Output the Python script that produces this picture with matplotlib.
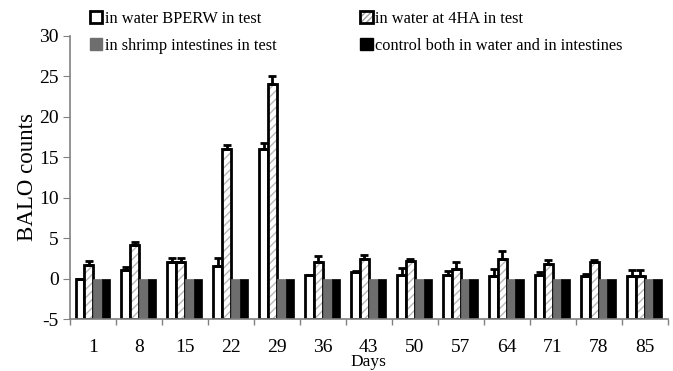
import numpy as np
import matplotlib
matplotlib.use('Agg')
import matplotlib.pyplot as plt
from matplotlib.patches import Patch
from matplotlib.legend_handler import HandlerTuple

plt.rcParams['font.family'] = 'Liberation Serif'
plt.rcParams['axes.unicode_minus'] = False

# data
days = [1, 8, 15, 22, 29, 36, 43, 50, 57, 64, 71, 78, 85]
bperw = [0.0, 1.0, 2.0, 1.6, 16.0, 0.4, 0.8, 0.5, 0.5, 0.35, 0.5, 0.35, 0.35]
bperw_err = [0.0, 0.4, 0.6, 0.9, 0.75, 0.0, 0.15, 0.8, 0.4, 0.8, 0.3, 0.2, 0.7]
ha4 = [1.65, 4.1, 2.0, 16.0, 24.0, 2.05, 2.45, 2.2, 1.15, 2.45, 1.8, 2.05, 0.35]
ha4_err = [0.55, 0.4, 0.6, 0.5, 1.0, 0.75, 0.5, 0.2, 0.9, 0.9, 0.5, 0.2, 0.7]
shrimp = [0, 0, 0, 0, 0, 0, 0, 0, 0, 0, 0, 0, 0]
control = [0, 0, 0, 0, 0, 0, 0, 0, 0, 0, 0, 0, 0]

labels = ['in water BPERW in test', 'in shrimp intestines in test',
          'in water at 4HA in test', 'control both in water and in intestines']

ymin = -5
x = np.arange(len(days))
w = 0.19

fig = plt.figure(figsize=(6.73, 3.71), dpi=100)
ax = fig.add_axes([0.104, 0.140, 0.888, 0.764])

def h(vals):
    return np.array(vals) - ymin

# white bars
ax.bar(x - 1.5*w, h(bperw), w, bottom=ymin, color='white', edgecolor='black', lw=2, zorder=2)
ax.errorbar(x - 1.5*w, bperw, yerr=[np.zeros(len(days)), bperw_err], fmt='none',
            ecolor='black', elinewidth=2, capsize=3, capthick=2, zorder=3)
# hatched bars: stripes in light gray, outline black
ax.bar(x - 0.5*w, h(ha4), w, bottom=ymin, color='white', edgecolor='#b8b8b8', hatch='////', lw=0, zorder=2)
ax.bar(x - 0.5*w, h(ha4), w, bottom=ymin, fill=False, edgecolor='black', lw=2, zorder=2)
ax.errorbar(x - 0.5*w, ha4, yerr=[np.zeros(len(days)), ha4_err], fmt='none',
            ecolor='black', elinewidth=2, capsize=3, capthick=2, zorder=3)
ax.bar(x + 0.5*w, h(shrimp), w, bottom=ymin, color='#6e6e6e', edgecolor='#6e6e6e', lw=0.5, zorder=2)
ax.bar(x + 1.5*w, h(control), w, bottom=ymin, color='black', edgecolor='black', lw=0.5, zorder=2)

ax.set_xlim(-0.5, len(days) - 0.5)
ax.set_ylim(ymin, 30)
ax.set_yticks(range(-5, 31, 5))
ax.set_xticks(x)
ax.set_xticklabels([str(d) for d in days])
ax.set_xticks(np.arange(len(days) + 1) - 0.5, minor=True)
ax.tick_params(axis='x', which='major', length=0, labelsize=14, pad=14)
ax.tick_params(axis='x', which='minor', length=4, color='#808080', width=1, direction='out')
ax.tick_params(axis='y', length=5, color='#808080', labelsize=14, pad=3)

for s in ['top', 'right']:
    ax.spines[s].set_visible(False)
for s in ['left', 'bottom']:
    ax.spines[s].set_color('#808080')
    ax.spines[s].set_linewidth(1.2)

ax.set_ylabel('BALO counts', fontsize=16.5, labelpad=1)
ax.set_xlabel('Days', fontsize=12.5, labelpad=-1)

hatch_handle = (Patch(facecolor='white', edgecolor='#a0a0a0', hatch='//////', lw=0),
                Patch(fill=False, edgecolor='black', lw=2))
handles = [Patch(facecolor='white', edgecolor='black', lw=2),
           Patch(facecolor='#6e6e6e', edgecolor='#6e6e6e'),
           hatch_handle,
           Patch(facecolor='black', edgecolor='black')]
fig.legend(handles, labels, ncol=2, frameon=False, fontsize=11.8,
           loc='upper left', bbox_to_anchor=(0.112, 1.01),
           handlelength=0.75, handleheight=0.75, handletextpad=0.15,
           columnspacing=5.1, labelspacing=0.67,
           handler_map={tuple: HandlerTuple(ndivide=1, pad=0)})

fig.savefig('out.png', dpi=100)
